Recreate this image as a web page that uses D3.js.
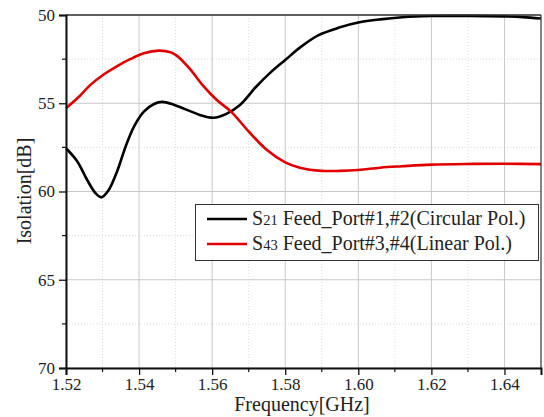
<!DOCTYPE html>
<html>
<head>
<meta charset="utf-8">
<script src="https://cdn.jsdelivr.net/npm/d3@7"></script>
<style>
  body { margin: 0; background: #fff; }
</style>
</head>
<body>
<div id="chart"></div>
<script>
// S21 (black) - Feed_Port#1,#2 Circular Pol.
const s21Freq = [1.520, 1.5231, 1.5258, 1.5281, 1.5297, 1.5316, 1.534, 1.5363, 1.5386, 1.5413, 1.5441, 1.5463, 1.5495, 1.552, 1.5566, 1.5603, 1.5639, 1.5676, 1.5721, 1.576, 1.580, 1.584, 1.589, 1.595, 1.600, 1.606, 1.612, 1.620, 1.630, 1.640, 1.645, 1.650];
const s21Val  = [57.55, 58.3, 59.35, 60.1, 60.33, 59.95, 58.85, 57.46, 56.32, 55.47, 55.04, 54.92, 55.08, 55.28, 55.66, 55.82, 55.6, 55.1, 54.05, 53.25, 52.55, 51.85, 51.15, 50.7, 50.43, 50.25, 50.13, 50.06, 50.05, 50.08, 50.12, 50.2];
// S43 (red) - Feed_Port#3,#4 Linear Pol.
const s43Freq = [1.520, 1.5231, 1.5267, 1.5304, 1.534, 1.5377, 1.5413, 1.5454, 1.5486, 1.5503, 1.5539, 1.5575, 1.5612, 1.5653, 1.570, 1.575, 1.580, 1.584, 1.590, 1.595, 1.600, 1.606, 1.612, 1.620, 1.630, 1.640, 1.650];
const s43Val  = [55.28, 54.72, 53.96, 53.36, 52.89, 52.49, 52.17, 52.02, 52.11, 52.3, 53.05, 54.0, 54.8, 55.5, 56.6, 57.65, 58.35, 58.65, 58.83, 58.83, 58.78, 58.65, 58.57, 58.48, 58.44, 58.43, 58.45];

const xTicks = [1.52, 1.54, 1.56, 1.58, 1.60, 1.62, 1.64];
const xMinor = [1.53, 1.55, 1.57, 1.59, 1.61, 1.63];
const yTicks = [50, 55, 60, 65, 70];
const yMinor = [52.5, 57.5, 62.5, 67.5];
const legendLabels = [["S", "21", " Feed_Port#1,#2(Circular Pol.)"], ["S", "43", " Feed_Port#3,#4(Linear Pol.)"]];
const colors = ["#000000", "#e00000"];
const serif = "Liberation Serif";

const width = 544, height = 417;
const margin = {top: 15, right: 3, bottom: 49, left: 66};
const innerW = width - margin.left - margin.right;
const innerH = height - margin.top - margin.bottom;

const svg = d3.select("#chart").append("svg")
  .attr("width", width)
  .attr("height", height)
  .attr("font-family", serif);
const g = svg.append("g")
  .attr("transform", "translate(" + margin.left + "," + margin.top + ")");

const x = d3.scaleLinear().domain([1.52, 1.65]).range([0, innerW]);
const y = d3.scaleLinear().domain([50, 70]).range([0, innerH]);

// grid
g.selectAll(".minorX").data(xMinor).enter().append("line")
  .attr("x1", d => x(d)).attr("x2", d => x(d)).attr("y1", 0).attr("y2", innerH)
  .attr("stroke", "#ddd").attr("stroke-dasharray", "1,2");
g.selectAll(".minorY").data(yMinor).enter().append("line")
  .attr("y1", d => y(d)).attr("y2", d => y(d)).attr("x1", 0).attr("x2", innerW)
  .attr("stroke", "#ddd").attr("stroke-dasharray", "1,2");
g.selectAll(".majorX").data(xTicks).enter().append("line")
  .attr("x1", d => x(d)).attr("x2", d => x(d)).attr("y1", 0).attr("y2", innerH)
  .attr("stroke", "#c8c8c8").attr("stroke-width", 1);
g.selectAll(".majorY").data(yTicks).enter().append("line")
  .attr("y1", d => y(d)).attr("y2", d => y(d)).attr("x1", 0).attr("x2", innerW)
  .attr("stroke", "#c8c8c8").attr("stroke-width", 1);

// curves
const line = d3.line()
  .x(d => x(d[0]))
  .y(d => y(d[1]))
  .curve(d3.curveCatmullRom.alpha(0.5));

const series = [d3.zip(s21Freq, s21Val), d3.zip(s43Freq, s43Val)];
series.forEach(function(s, i) {
  g.append("path")
    .datum(s)
    .attr("fill", "none")
    .attr("stroke", colors[i])
    .attr("stroke-width", 2.6)
    .attr("d", line);
});

// frame
g.append("line").attr("x1", 0).attr("x2", innerW).attr("y1", 0).attr("y2", 0)
  .attr("stroke", "#333").attr("stroke-width", 1.5);
g.append("line").attr("x1", innerW).attr("x2", innerW).attr("y1", 0).attr("y2", innerH)
  .attr("stroke", "#333").attr("stroke-width", 1.2);

// axes
const xAxis = d3.axisBottom(x).tickValues(xTicks).tickFormat(d3.format(".2f")).tickSize(7).tickPadding(3);
const yAxis = d3.axisLeft(y).tickValues(yTicks).tickFormat(d3.format("d")).tickSize(7).tickPadding(4);

const xg = g.append("g").attr("transform", "translate(0," + innerH + ")").call(xAxis);
const yg = g.append("g").call(yAxis);
[xg, yg].forEach(function(a) {
  a.attr("font-family", serif);
  a.select(".domain").attr("stroke", "#111").attr("stroke-width", 2);
  a.selectAll(".tick line").attr("stroke", "#111").attr("stroke-width", 1.3);
  a.selectAll(".tick text").attr("font-family", serif).attr("font-size", 17).attr("fill", "#222");
});

// minor ticks
xg.selectAll(".mt").data(xMinor).enter().append("line")
  .attr("x1", d => x(d)).attr("x2", d => x(d)).attr("y1", 0).attr("y2", 4)
  .attr("stroke", "#111").attr("stroke-width", 1.2);
yg.selectAll(".mt").data(yMinor).enter().append("line")
  .attr("y1", d => y(d)).attr("y2", d => y(d)).attr("x1", 0).attr("x2", -4)
  .attr("stroke", "#111").attr("stroke-width", 1.2);

// axis titles
svg.append("text")
  .attr("x", 302).attr("y", 411)
  .attr("text-anchor", "middle").attr("font-size", 20).attr("fill", "#222")
  .text("Frequency[GHz]");
svg.append("text")
  .attr("transform", "translate(31,191) rotate(-90)")
  .attr("text-anchor", "middle").attr("font-size", 20).attr("fill", "#222")
  .text("Isolation[dB]");

// legend
const lg = svg.append("g");
lg.append("rect")
  .attr("x", 195.5).attr("y", 204.5).attr("width", 343).attr("height", 56)
  .attr("fill", "#fff").attr("stroke", "#333").attr("stroke-width", 1);
legendLabels.forEach(function(lab, i) {
  const yy = 219 + i * 25;
  lg.append("line").attr("x1", 207).attr("x2", 247).attr("y1", yy).attr("y2", yy)
    .attr("stroke", colors[i]).attr("stroke-width", 2.6);
  const t = lg.append("text").attr("x", 252).attr("y", yy + 6).attr("font-size", 20).attr("fill", "#222");
  t.append("tspan").text(lab[0]);
  t.append("tspan").attr("font-size", 14.5).text(lab[1]);
  t.append("tspan").text(lab[2]);
});
</script>
</body>
</html>
